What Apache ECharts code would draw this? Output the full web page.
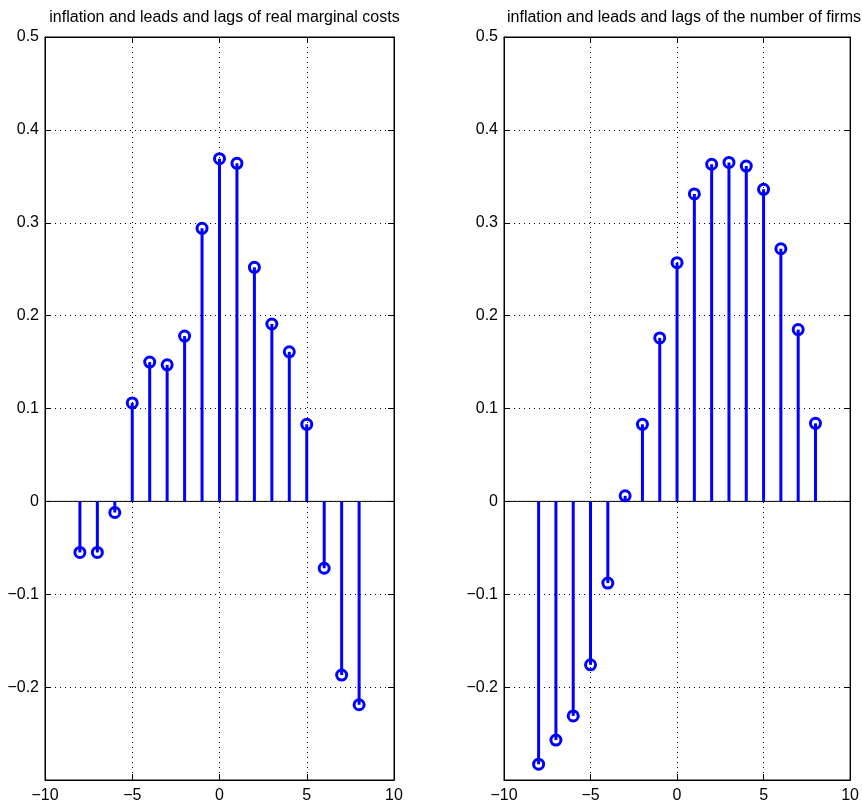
<!DOCTYPE html>
<html>
<head>
<meta charset="utf-8">
<script src="https://cdn.jsdelivr.net/npm/echarts@6/dist/echarts.min.js"></script>
<style>
html,body{margin:0;padding:0;background:#fff;}
#chart{width:862px;height:804px;}
</style>
</head>
<body>
<div id="chart"></div>
<script>
var lags = [-8,-7,-6,-5,-4,-3,-2,-1,0,1,2,3,4,5,6,7,8];
var mcValues = [-0.055,-0.055,-0.012,0.106,0.150,0.147,0.178,0.294,0.369,0.364,0.252,0.191,0.161,0.083,-0.072,-0.187,-0.219];
var firmsValues = [-0.283,-0.257,-0.231,-0.176,-0.088,0.006,0.083,0.176,0.257,0.331,0.363,0.365,0.361,0.336,0.272,0.185,0.084];
var titles = ['inflation and leads and lags of real marginal costs','inflation and leads and lags of the number of firms'];
var xTicks = {min:-10, max:10, interval:5};
var yTicks = {min:-0.3, max:0.5, interval:0.1};

var FONT = 'Liberation Sans, Arial, Helvetica, sans-serif';
var BLUE = '#0000ff';

function fmtNum(v){
  var s = String(Math.round(v*10)/10);
  return s.replace('-', '\u2212');
}

var grids = [
  {left:45, top:37, width:349, height:743, show:true, borderColor:'#000', borderWidth:1},
  {left:504, top:37, width:350, height:743, show:true, borderColor:'#000', borderWidth:1}
];

var xAxes = [], yAxes = [], series = [], titleOpts = [];
[mcValues, firmsValues].forEach(function(vals, gi){
  var g = grids[gi];
  titleOpts.push({
    text: titles[gi], left: g.left + g.width/2, top: 5, textAlign:'center',
    textStyle:{fontFamily:FONT, fontSize:16, fontWeight:'normal', color:'#000'}
  });
  xAxes.push({
    type:'value', gridIndex:gi, position:'bottom', min:xTicks.min, max:xTicks.max, interval:xTicks.interval,
    axisLine:{show:true, onZero:false, lineStyle:{color:'#000', width:1}},
    axisTick:{show:true, inside:true, length:6, lineStyle:{color:'#000'}},
    axisLabel:{fontFamily:FONT, fontSize:16, color:'#000', margin:8, formatter:fmtNum},
    splitLine:{show:true, lineStyle:{color:'#000', type:[1,4], width:1}}
  });
  xAxes.push({
    type:'value', gridIndex:gi, position:'top', min:xTicks.min, max:xTicks.max, interval:xTicks.interval,
    axisLine:{show:true, onZero:false, lineStyle:{color:'#000', width:1}},
    axisTick:{show:true, inside:true, length:6, lineStyle:{color:'#000'}},
    axisLabel:{show:false}, splitLine:{show:false}
  });
  yAxes.push({
    type:'value', gridIndex:gi, position:'left', min:yTicks.min, max:yTicks.max, interval:yTicks.interval,
    axisLine:{show:true, onZero:false, lineStyle:{color:'#000', width:1}},
    axisTick:{show:true, inside:true, length:6, lineStyle:{color:'#000'}},
    axisLabel:{fontFamily:FONT, fontSize:16, color:'#000', margin:6,
      formatter:function(v){ return Math.abs(v - yTicks.min) < 1e-9 ? '' : fmtNum(v); }},
    splitLine:{show:true, lineStyle:{color:'#000', type:[1,4], width:1}}
  });
  yAxes.push({
    type:'value', gridIndex:gi, position:'right', min:yTicks.min, max:yTicks.max, interval:yTicks.interval,
    axisLine:{show:true, onZero:false, lineStyle:{color:'#000', width:1}},
    axisTick:{show:true, inside:true, length:6, lineStyle:{color:'#000'}},
    axisLabel:{show:false}, splitLine:{show:false}
  });
  var xi = gi*2, yi = gi*2;
  var data = lags.map(function(x, i){ return [x, vals[i]]; });
  series.push({
    type:'line', xAxisIndex:xi, yAxisIndex:yi, data:[[xTicks.min,0],[xTicks.max,0]],
    symbol:'none', lineStyle:{color:'#000', width:1}, silent:true, z:2
  });
  series.push({
    type:'custom', xAxisIndex:xi, yAxisIndex:yi, data:data, z:3,
    renderItem:function(params, api){
      var p0 = api.coord([api.value(0), 0]);
      var p1 = api.coord([api.value(0), api.value(1)]);
      return {type:'line', shape:{x1:p0[0], y1:p0[1], x2:p1[0], y2:p1[1]},
        style:{stroke:BLUE, lineWidth:3}};
    }
  });
  series.push({
    type:'scatter', xAxisIndex:xi, yAxisIndex:yi, data:data, z:4,
    symbol:'circle', symbolSize:10,
    itemStyle:{color:'rgba(0,0,0,0)', borderColor:BLUE, borderWidth:3, opacity:1}
  });
});

var chart = echarts.init(document.getElementById('chart'), null, {renderer:'canvas'});
chart.setOption({
  animation:false,
  backgroundColor:'#fff',
  title:titleOpts,
  grid:grids,
  xAxis:xAxes,
  yAxis:yAxes,
  series:series
});
</script>
</body>
</html>
